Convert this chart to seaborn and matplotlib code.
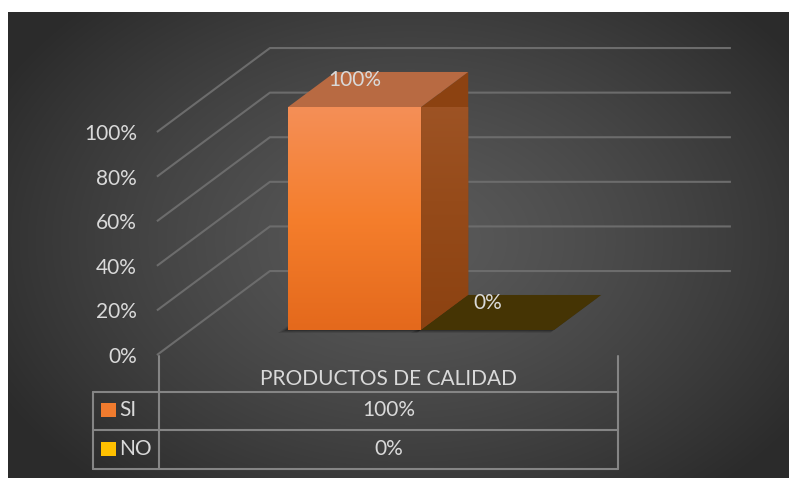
import numpy as np
import pandas as pd
import matplotlib
matplotlib.use("Agg")
import matplotlib.pyplot as plt
import seaborn as sns
from matplotlib.patches import Polygon, Rectangle
from matplotlib.colors import LinearSegmentedColormap
from matplotlib.lines import Line2D

# ---------------- data ----------------
categories = ["PRODUCTOS DE CALIDAD"]
series = ["SI", "NO"]
values_si = [100]
values_no = [0]
y_ticks = [0, 20, 40, 60, 80, 100]
tick_labels = ["0%", "20%", "40%", "60%", "80%", "100%"]

df = pd.DataFrame({
    "categoria": categories * 2,
    "serie": series,
    "valor": values_si + values_no,
})

# ---------------- style ----------------
sns.set_theme(style="white")
plt.rcParams["font.family"] = ["Lato", "DejaVu Sans"]
TXT = "#D9D9D9"
FS = 15
palette = {"SI": "#F07B2E", "NO": "#FFC000"}
front_grad = {"SI": ("#F48F57", "#F57E2C", "#E4691C"),
              "NO": ("#FFD54A", "#FFC21A", "#F2B300")}
side_grad = {"SI": ("#A05628", "#964B1A", "#8C4211"),
             "NO": ("#8A6A10", "#7C600C", "#6E5408")}
top_col = {"SI": "#B86A42", "NO": "#453404"}
legend_grad = {"SI": ("#F3864A", "#E8701F"), "NO": ("#FFD94A", "#F5B800")}

W, H = 789, 478
fig = plt.figure(figsize=(W / 100, H / 100), dpi=100)
fig.patch.set_facecolor("white")


def fx(px):
    return px / W


def fy(py):
    return 1 - py / H


# ---------------- background ----------------
bg = fig.add_axes([fx(8), 0, 1 - fx(8), 1 - 12 / H])
yy, xx = np.mgrid[12:478, 8:789]
r = np.sqrt(((xx - 410) / 470.0) ** 2 + ((yy - 240) / 330.0) ** 2)
v = (0x5A - (0x5A - 0x2B) * np.clip(r, 0, 1) ** 1.3) / 255.0
img = np.dstack([v, v, v])
bg.imshow(img, aspect="auto", interpolation="bilinear")
bg.axis("off")

# ---------------- bar plane axes ----------------
ax = fig.add_axes([fx(190.6), fy(330), fx(461), 223 / H])
ax.set_facecolor("none")
sns.barplot(data=df, x="categoria", y="valor", hue="serie", hue_order=series,
            palette=palette, width=0.577, saturation=1, legend=False,
            edgecolor="none", ax=ax, zorder=3)
ax.set_xlim(-0.5, 0.5)
ax.set_ylim(0, 100)
ax.axis("off")

# oblique depth vector (data units per unit depth)
DX = 113 / 461
DY = 84 / 223 * 100
T_FRONT = -0.298   # wall/floor front edge
T_BAR = 0.417      # bar depth
T_BACK = 0.702     # back wall
PXX = 461.0        # pixels per x data unit
PXY = 2.23         # pixels per y data unit

# grid lines (side wall + back wall)
for tv in y_ticks:
    xs = [-0.5 + T_FRONT * DX, -0.5 + T_BACK * DX, 0.5 + T_BACK * DX]
    ys = [tv + T_FRONT * DY, tv + T_BACK * DY, tv + T_BACK * DY]
    ax.add_line(Line2D(xs, ys, color="#6C6C6C", lw=1.5, zorder=1,
                       clip_on=False, solid_capstyle="butt"))


def vgrad(target, poly, colors, zorder):
    xy = np.asarray(poly.get_xy()) if isinstance(poly, Polygon) else None
    if xy is None:
        x0, y0 = poly.get_x(), poly.get_y()
        x1, y1 = x0 + poly.get_width(), y0 + poly.get_height()
    else:
        x0, x1 = xy[:, 0].min(), xy[:, 0].max()
        y0, y1 = xy[:, 1].min(), xy[:, 1].max()
    if y1 - y0 <= 0:
        return
    cmap = LinearSegmentedColormap.from_list("g", list(colors)[::-1])
    grad = np.linspace(0, 1, 256).reshape(-1, 1)
    im = target.imshow(grad, cmap=cmap, extent=[x0, x1, y0, y1], origin="lower",
                       aspect="auto", zorder=zorder, interpolation="bilinear")
    im.set_clip_path(poly)
    im.set_clip_on(True)


bars = sorted([p for p in ax.patches if isinstance(p, Rectangle)],
              key=lambda p: p.get_x())
for name, bar in zip(series, bars):
    x0, w, h = bar.get_x(), bar.get_width(), bar.get_height()
    dxb, dyb = T_BAR * DX, T_BAR * DY
    # shadow of footprint
    for k, a in enumerate([0.10, 0.14, 0.2]):
        sx = -(7 - 2 * k) / PXX
        sy = -(3 - k) / PXY
        grow = (3 - k) / PXX
        foot = [(x0 + sx - grow, sy), (x0 + w + sx + grow, sy),
                (x0 + w + dxb + sx + grow, dyb + sy), (x0 + dxb + sx - grow, dyb + sy)]
        ax.add_patch(Polygon(foot, closed=True, facecolor="black", alpha=a,
                             edgecolor="none", zorder=2, clip_on=False))
    # side face
    side = Polygon([(x0 + w, 0), (x0 + w, h), (x0 + w + dxb, h + dyb),
                    (x0 + w + dxb, dyb)], closed=True,
                   facecolor=side_grad[name][2], edgecolor="none",
                   zorder=3, clip_on=False)
    ax.add_patch(side)
    vgrad(ax, side, side_grad[name], 3.1)
    # top face
    top = Polygon([(x0, h), (x0 + w, h), (x0 + w + dxb, h + dyb),
                   (x0 + dxb, h + dyb)], closed=True,
                  facecolor=top_col[name], edgecolor="none", zorder=3.2,
                  clip_on=False)
    ax.add_patch(top)
    # front face gradient
    bar.set_clip_on(False)
    vgrad(ax, bar, front_grad[name], 3.3)
    # data label
    ax.annotate(f"{h:.0f}%", (x0 + w / 2, h), xytext=(0, 27 * 0.72),
                textcoords="offset points", ha="center", va="center",
                color=TXT, fontsize=FS, zorder=5, annotation_clip=False)

ax.set_xlim(-0.5, 0.5)
ax.set_ylim(0, 100)

# ---------------- front plane axes for value labels ----------------
axF = fig.add_axes([fx(157), fy(355), fx(461), 223 / H])
axF.set_facecolor("none")
axF.set_xlim(-0.5, 0.5)
axF.set_ylim(0, 100)
axF.set_yticks(y_ticks)
axF.set_yticklabels(tick_labels)
axF.set_xticks([])
axF.tick_params(axis="y", length=0, pad=20 * 0.72, labelsize=FS, labelcolor=TXT)
for s in axF.spines.values():
    s.set_visible(False)

# ---------------- data table ----------------
LC = "#858585"
LW = 1.5


def hline(y, xa, xb):
    fig.add_artist(Line2D([fx(xa), fx(xb)], [fy(y), fy(y)], color=LC, lw=LW))


def vline(x, ya, yb):
    fig.add_artist(Line2D([fx(x), fx(x)], [fy(ya), fy(yb)], color=LC, lw=LW))


vline(159, 356, 469)
vline(618, 356, 469)
vline(93, 392, 469)
for yl in (392, 430, 469):
    hline(yl, 93, 618)

fig.text(fx(388.5), fy(379), categories[0], ha="center", va="center",
         color=TXT, fontsize=FS)
rows_y = [410, 449]
for name, vals, ry in zip(series, [values_si, values_no], rows_y):
    fig.add_artist(Rectangle((fx(101), fy(ry + 7)), fx(15), 14 / H,
                             facecolor=palette[name], edgecolor="none",
                             transform=fig.transFigure))
    fig.text(fx(119), fy(ry), name, ha="left", va="center", color=TXT, fontsize=FS)
    fig.text(fx(388.5), fy(ry), f"{vals[0]}%", ha="center", va="center",
             color=TXT, fontsize=FS)

fig.savefig("out.png", dpi=100, facecolor=fig.get_facecolor())
